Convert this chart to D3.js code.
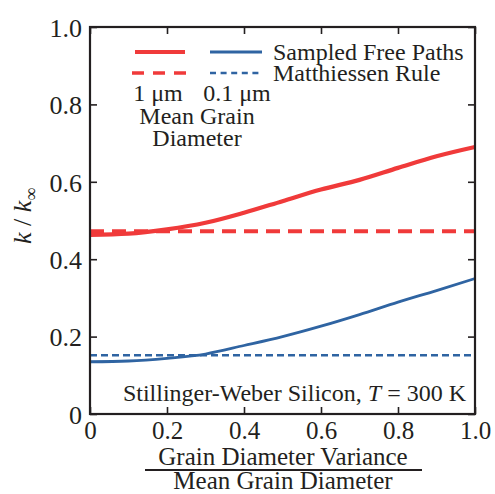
<!DOCTYPE html>
<html><head><meta charset="utf-8">
<script src="https://cdn.jsdelivr.net/npm/d3@7"></script>
<style>html,body{margin:0;padding:0;background:#fff;}svg{display:block;}</style>
</head><body>
<script>
const xValues = [0, 0.1, 0.2, 0.3, 0.4, 0.5, 0.6, 0.7, 0.8, 0.9, 1.0];
const sampled1um = [0.463, 0.466, 0.477, 0.494, 0.52, 0.55, 0.58, 0.605, 0.636, 0.666, 0.69];
const sampled01um = [0.135, 0.137, 0.144, 0.155, 0.177, 0.2, 0.227, 0.257, 0.289, 0.319, 0.35];
const matthiessen1um = 0.472;
const matthiessen01um = 0.152;
const xTicks = [0, 0.2, 0.4, 0.6, 0.8, 1.0];
const yTicks = [0, 0.2, 0.4, 0.6, 0.8, 1.0];
const RED = "#f03a3a", BLUE = "#2f64a2", INK = "#231f20";
const FONT = "'Liberation Serif','Times New Roman',serif";

const W = 495, H = 494;
const m = {left: 90, right: 20, top: 27, bottom: 80};
const svg = d3.select("body").append("svg").attr("width", W).attr("height", H)
  .style("font-family", FONT);
const x = d3.scaleLinear().domain([0, 1]).range([m.left, W - m.right]);
const y = d3.scaleLinear().domain([0, 1]).range([H - m.bottom, m.top]);
const fmt = d => d === 0 ? "0" : d3.format(".1f")(d);

// data lines
const flat = d3.line().x((d, i) => x(xValues[i])).y(d => y(d));
const smooth = d3.line().curve(d3.curveMonotoneX).x((d, i) => x(xValues[i])).y(d => y(d));
svg.append("path").datum(xValues.map(() => matthiessen1um)).attr("d", flat)
  .attr("fill", "none").attr("stroke", RED).attr("stroke-width", 4).attr("stroke-dasharray", "14,8");
svg.append("path").datum(xValues.map(() => matthiessen01um)).attr("d", flat)
  .attr("fill", "none").attr("stroke", BLUE).attr("stroke-width", 2.6).attr("stroke-dasharray", "7,4");
svg.append("path").datum(sampled1um).attr("d", smooth)
  .attr("fill", "none").attr("stroke", RED).attr("stroke-width", 4.2);
svg.append("path").datum(sampled01um).attr("d", smooth)
  .attr("fill", "none").attr("stroke", BLUE).attr("stroke-width", 2.8);

// axes (inward ticks on all sides)
const tl = 7;
const styleAxis = g => { g.selectAll("path.domain").remove(); g.selectAll("line").attr("stroke", INK).attr("stroke-width", 1.6); };
const gx = svg.append("g").attr("transform", `translate(0,${y(0)})`)
  .call(d3.axisBottom(x).tickValues(xTicks).tickSize(-tl).tickFormat(fmt));
styleAxis(gx);
gx.selectAll("text").attr("font-family", FONT).attr("font-size", 25).attr("fill", INK).attr("y", 25).attr("dy", 0);
const gxt = svg.append("g").attr("transform", `translate(0,${y(1)})`)
  .call(d3.axisTop(x).tickValues(xTicks).tickSize(-tl).tickFormat(""));
styleAxis(gxt);
const gy = svg.append("g").attr("transform", `translate(${x(0)},0)`)
  .call(d3.axisLeft(y).tickValues(yTicks).tickSize(-tl).tickPadding(8).tickFormat(fmt));
styleAxis(gy);
gy.selectAll("text").attr("font-family", FONT).attr("font-size", 26).attr("fill", INK).attr("dy", "0.36em");
const gyr = svg.append("g").attr("transform", `translate(${x(1)},0)`)
  .call(d3.axisRight(y).tickValues(yTicks).tickSize(-tl).tickFormat(""));
styleAxis(gyr);

// frame
svg.append("rect").attr("x", x(0)).attr("y", y(1)).attr("width", x(1) - x(0)).attr("height", y(0) - y(1))
  .attr("fill", "none").attr("stroke", INK).attr("stroke-width", 2.2);

// x axis title (fraction)
const xc = 283;
svg.append("text").attr("x", xc).attr("y", 465).attr("text-anchor", "middle").attr("font-size", 25).attr("fill", INK)
  .text("Grain Diameter Variance");
svg.append("line").attr("x1", 145).attr("x2", 422).attr("y1", 470).attr("y2", 470).attr("stroke", INK).attr("stroke-width", 1.8);
svg.append("text").attr("x", xc).attr("y", 489).attr("text-anchor", "middle").attr("font-size", 25).attr("fill", INK)
  .text("Mean Grain Diameter");

// y axis title
const yt = svg.append("text").attr("transform", "translate(31,216) rotate(-90)").attr("text-anchor", "middle")
  .attr("font-size", 26).attr("fill", INK);
yt.append("tspan").attr("font-style", "italic").text("k");
yt.append("tspan").text(" / ");
yt.append("tspan").attr("font-style", "italic").text("k");
yt.append("tspan").attr("font-size", 18).attr("dy", 6).text("∞");

// legend
const lg = svg.append("g");
lg.append("line").attr("x1", 135).attr("x2", 185).attr("y1", 52).attr("y2", 52).attr("stroke", RED).attr("stroke-width", 4.2);
lg.append("line").attr("x1", 210).attr("x2", 262).attr("y1", 52).attr("y2", 52).attr("stroke", BLUE).attr("stroke-width", 2.8);
lg.append("line").attr("x1", 132).attr("x2", 186).attr("y1", 73).attr("y2", 73).attr("stroke", RED).attr("stroke-width", 3.6).attr("stroke-dasharray", "12,9");
lg.append("line").attr("x1", 210).attr("x2", 263).attr("y1", 73).attr("y2", 73).attr("stroke", BLUE).attr("stroke-width", 2.6).attr("stroke-dasharray", "6,4.6");
lg.append("text").attr("x", 273).attr("y", 60).attr("font-size", 24).attr("fill", INK).text("Sampled Free Paths");
lg.append("text").attr("x", 273).attr("y", 81).attr("font-size", 24).attr("fill", INK).text("Matthiessen Rule");
lg.append("text").attr("x", 158).attr("y", 101).attr("text-anchor", "middle").attr("font-size", 24).attr("fill", INK).text("1 μm");
lg.append("text").attr("x", 237).attr("y", 101).attr("text-anchor", "middle").attr("font-size", 24).attr("fill", INK).text("0.1 μm");
lg.append("text").attr("x", 197).attr("y", 124).attr("text-anchor", "middle").attr("font-size", 24).attr("fill", INK).text("Mean Grain");
lg.append("text").attr("x", 197).attr("y", 146).attr("text-anchor", "middle").attr("font-size", 24).attr("fill", INK).text("Diameter");

// annotation
const an = svg.append("text").attr("x", 466).attr("y", 401).attr("text-anchor", "end").attr("font-size", 24).attr("fill", INK);
an.append("tspan").text("Stillinger-Weber Silicon, ");
an.append("tspan").attr("font-style", "italic").text("T");
an.append("tspan").text(" = 300 K");
</script>
</body></html>
